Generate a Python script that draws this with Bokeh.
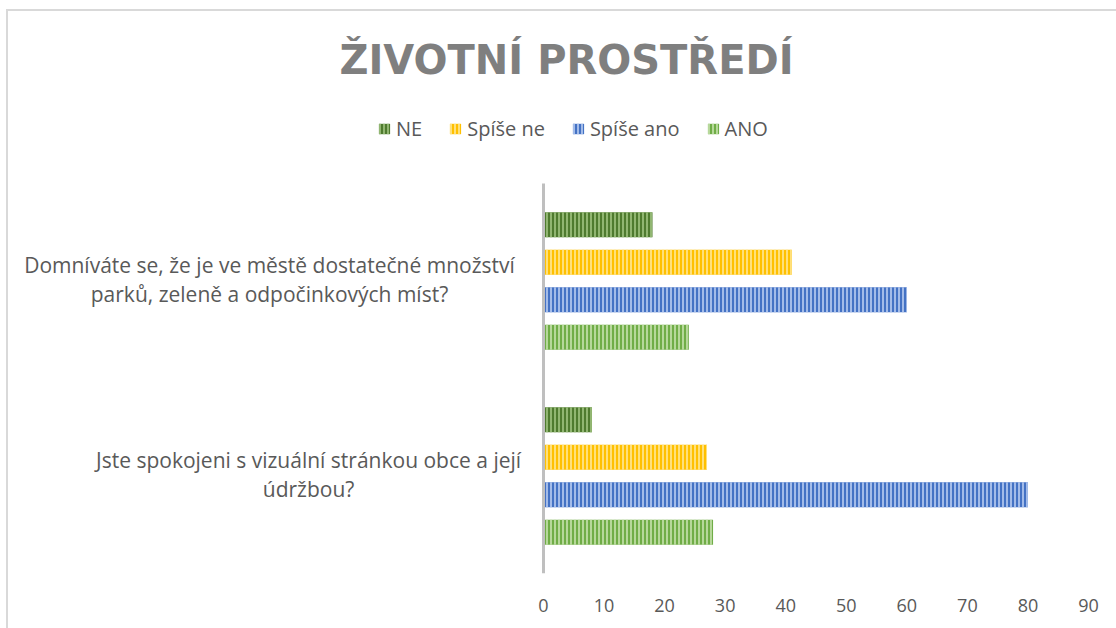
from bokeh.plotting import figure
from bokeh.models import Range1d, Label, Legend, LegendItem, FixedTicker
from bokeh.embed import file_html
from bokeh.resources import INLINE

# ---- data ----
categories = [
    "Domníváte se, že je ve městě dostatečné množství\nparků, zeleně a odpočinkových míst?",
    "Jste spokojeni s vizuální stránkou obce a její\núdržbou?",
]
series = ["NE", "Spíše ne", "Spíše ano", "ANO"]
ne = [18, 8]
spise_ne = [41, 27]
spise_ano = [60, 80]
ano = [24, 28]
x_ticks = [0, 10, 20, 30, 40, 50, 60, 70, 80, 90]
title_text = "ŽIVOTNÍ PROSTŘEDÍ"

values = [ne, spise_ne, spise_ano, ano]
fills = ["#4f7b2f", "#ffc000", "#4472c4", "#70ad47"]
hatches = ["#9cc07c", "#ffe58f", "#b3c8ee", "#c2e0a8"]

W, H = 1108, 617
plot_left, plot_right = 535, 1080      # canvas px of x=0 and x=90
plot_top, plot_bottom = 172, 562       # canvas px of y=2 and y=0
BOTTOM = H - plot_bottom
ppx = (plot_right - plot_left) / 90.0
ppy = (plot_bottom - plot_top) / 2.0
x0 = -plot_left / ppx
x1 = 90 + (W - plot_right) / ppx
y1 = 2 + plot_top / ppy

p = figure(width=W, height=H, output_backend="svg", toolbar_location=None,
           x_range=Range1d(x0, x1), y_range=Range1d(0, y1),
           y_axis_location=None, x_axis_location="below",
           min_border_left=0, min_border_right=0,
           min_border_top=0, min_border_bottom=BOTTOM,
           outline_line_color=None, background_fill_color="white",
           border_fill_color="white",
           styles={"margin-left": "8px", "margin-top": "11px",
                   "outline": "2px solid #d9d9d9"})
p.grid.visible = False

ncat = len(categories)
bar_h = 0.128
pitch = 0.192
renderers = []
for j, (name, vals) in enumerate(zip(series, values)):
    ys = [(ncat - 0.5 - i) + (1.5 - j) * pitch for i in range(ncat)]
    r = p.hbar(y=ys, left=0, right=vals, height=bar_h,
               fill_color=fills[j], line_color=None,
               hatch_pattern="vertical_line", hatch_color=hatches[j],
               hatch_scale=4, hatch_weight=1.9, hatch_alpha=0.9)
    renderers.append(r)

# category axis line at x=0
p.segment(x0=[0], y0=[0], x1=[0], y1=[ncat], line_color="#bfbfbf", line_width=3)

xa = p.xaxis[0]
xa.ticker = FixedTicker(ticks=x_ticks)
xa.axis_line_color = None
xa.major_tick_line_color = None
xa.minor_tick_line_color = None
xa.major_label_standoff = 19
xa.major_label_text_font = "Open Sans"
xa.major_label_text_font_size = "18px"
xa.major_label_text_color = "#595959"

# category labels, one Label per wrapped line, centred
label_x = [-45.25, -38.8]
line_dy = [0.080, -0.069]
for i, cat in enumerate(categories):
    for k, line in enumerate(cat.split("\n")):
        p.add_layout(Label(x=label_x[i], y=ncat - 0.5 - i + line_dy[k], text=line,
                           text_align="center", text_baseline="alphabetic",
                           text_font="Open Sans", text_font_size="21px",
                           text_color="#595959"))

# title
p.add_layout(Label(x=3.8, y=2.631, text=title_text, text_align="center",
                   text_baseline="alphabetic", text_font="DejaVu Sans",
                   text_font_size="40px", text_font_style="bold",
                   text_color="#7f7f7f"))

legend = Legend(items=[LegendItem(label=s, renderers=[r]) for s, r in zip(series, renderers)],
                orientation="horizontal", location=(369, 431),
                padding=0, margin=0, spacing=26, label_standoff=5,
                glyph_width=14, glyph_height=13,
                border_line_color=None, background_fill_alpha=0,
                label_text_font="Open Sans", label_text_font_size="20px",
                label_text_color="#595959")
p.add_layout(legend, "center")

open("out.html", "w").write(file_html(p, INLINE))
